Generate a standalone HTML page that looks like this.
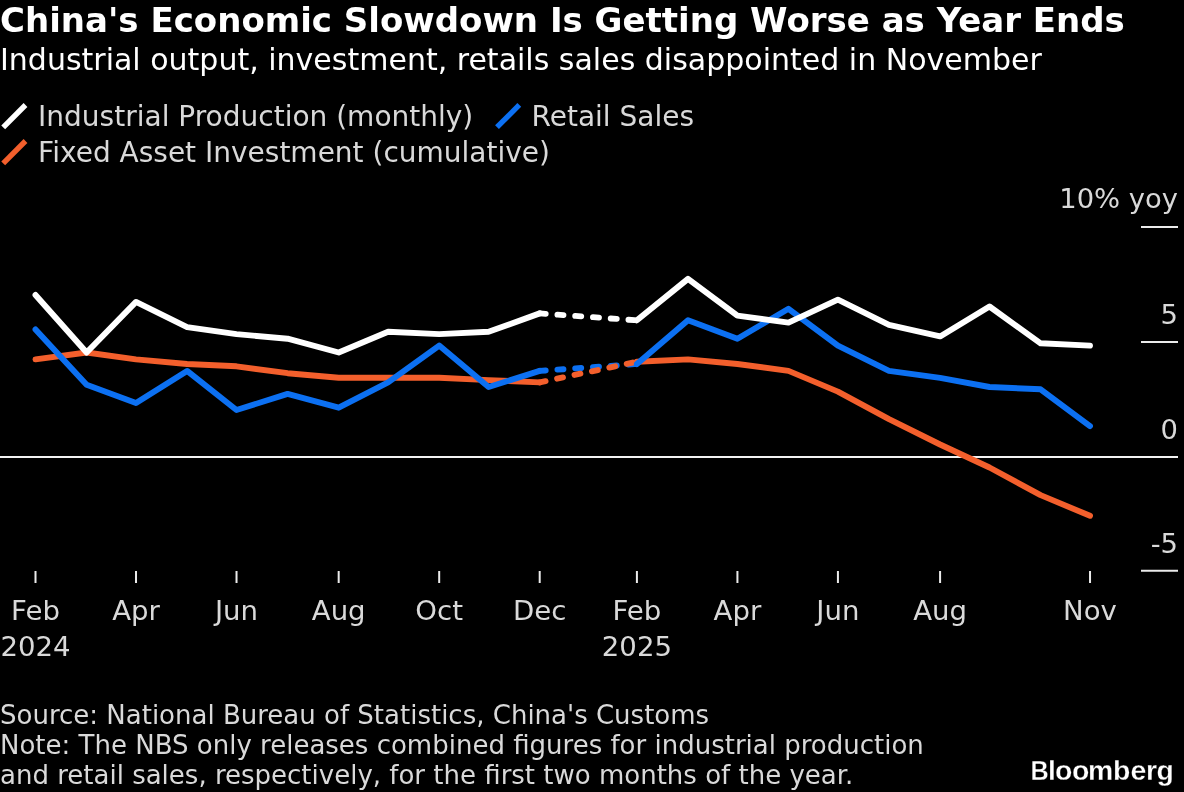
<!DOCTYPE html>
<html lang="en"><head><meta charset="utf-8"><title>China's Economic Slowdown Is Getting Worse as Year Ends</title>
<style>html,body{margin:0;padding:0;background:#000;}body{width:1184px;height:792px;overflow:hidden;}svg{display:block;}</style></head>
<body>
<svg width="1184" height="792" viewBox="0 0 1184 792">
<rect width="1184" height="792" fill="#000"/>
<g font-family="'DejaVu Sans', 'Liberation Sans', sans-serif">
<text x="0" y="32" font-size="34" font-weight="bold" fill="#fff">China's Economic Slowdown Is Getting Worse as Year Ends</text>
<text x="0" y="70" font-size="30" fill="#fff">Industrial output, investment, retails sales disappointed in November</text>
<line x1="3.2" y1="127.3" x2="25.5" y2="105" stroke="#ffffff" stroke-width="5.4"/>
<text x="38.1" y="125.9" font-size="28" fill="#d9d9d9">Industrial Production (monthly)</text>
<line x1="497.0" y1="127.2" x2="519.3" y2="104.9" stroke="#0c70f2" stroke-width="5.4"/>
<text x="531.5" y="125.9" font-size="28" fill="#d9d9d9">Retail Sales</text>
<line x1="3.2" y1="163.3" x2="25.5" y2="141" stroke="#f35f2c" stroke-width="5.4"/>
<text x="38.1" y="162" font-size="28" fill="#d9d9d9">Fixed Asset Investment (cumulative)</text>
<rect x="1141" y="226" width="37" height="2" fill="#ebebeb"/>
<text x="1178" y="207.8" font-size="27.4" fill="#d9d9d9" text-anchor="end">10% yoy</text>
<rect x="1141" y="341" width="37" height="2" fill="#ebebeb"/>
<text x="1178" y="323.8" font-size="27.4" fill="#d9d9d9" text-anchor="end">5</text>
<rect x="0" y="456" width="1178" height="2" fill="#f2f2f2"/>
<text x="1178" y="439.3" font-size="27.4" fill="#d9d9d9" text-anchor="end">0</text>
<rect x="1141" y="569.75" width="37" height="2" fill="#ebebeb"/>
<text x="1178" y="553.1" font-size="27.4" fill="#d9d9d9" text-anchor="end">-5</text>
<rect x="34.50" y="571" width="2" height="12" fill="#ebebeb"/>
<text transform="translate(35.5,619.5) scale(1.022,1)" font-size="27" fill="#d9d9d9" text-anchor="middle">Feb</text>
<text transform="translate(35.5,655.8) scale(1.022,1)" font-size="27" fill="#d9d9d9" text-anchor="middle">2024</text>
<rect x="135.01" y="571" width="2" height="12" fill="#ebebeb"/>
<text transform="translate(136.0,619.5) scale(1.022,1)" font-size="27" fill="#d9d9d9" text-anchor="middle">Apr</text>
<rect x="235.52" y="571" width="2" height="12" fill="#ebebeb"/>
<text transform="translate(236.5,619.5) scale(1.022,1)" font-size="27" fill="#d9d9d9" text-anchor="middle">Jun</text>
<rect x="337.68" y="571" width="2" height="12" fill="#ebebeb"/>
<text transform="translate(338.7,619.5) scale(1.022,1)" font-size="27" fill="#d9d9d9" text-anchor="middle">Aug</text>
<rect x="438.19" y="571" width="2" height="12" fill="#ebebeb"/>
<text transform="translate(439.2,619.5) scale(1.022,1)" font-size="27" fill="#d9d9d9" text-anchor="middle">Oct</text>
<rect x="538.70" y="571" width="2" height="12" fill="#ebebeb"/>
<text transform="translate(539.7,619.5) scale(1.022,1)" font-size="27" fill="#d9d9d9" text-anchor="middle">Dec</text>
<rect x="635.91" y="571" width="2" height="12" fill="#ebebeb"/>
<text transform="translate(636.9,619.5) scale(1.022,1)" font-size="27" fill="#d9d9d9" text-anchor="middle">Feb</text>
<text transform="translate(636.9,655.8) scale(1.022,1)" font-size="27" fill="#d9d9d9" text-anchor="middle">2025</text>
<rect x="736.42" y="571" width="2" height="12" fill="#ebebeb"/>
<text transform="translate(737.4,619.5) scale(1.022,1)" font-size="27" fill="#d9d9d9" text-anchor="middle">Apr</text>
<rect x="836.93" y="571" width="2" height="12" fill="#ebebeb"/>
<text transform="translate(837.9,619.5) scale(1.022,1)" font-size="27" fill="#d9d9d9" text-anchor="middle">Jun</text>
<rect x="939.09" y="571" width="2" height="12" fill="#ebebeb"/>
<text transform="translate(940.1,619.5) scale(1.022,1)" font-size="27" fill="#d9d9d9" text-anchor="middle">Aug</text>
<rect x="1089.03" y="571" width="2" height="12" fill="#ebebeb"/>
<text transform="translate(1090.0,619.5) scale(1.022,1)" font-size="27" fill="#d9d9d9" text-anchor="middle">Nov</text>
<line stroke="#0c70f2" stroke-width="5.9" stroke-linecap="round" stroke-dasharray="6 11.8" x1="539.7" y1="370.9" x2="636.9" y2="364.0"/>

<line stroke="#f35f2c" stroke-width="5.9" stroke-linecap="round" stroke-dasharray="6 11.8" x1="539.7" y1="382.4" x2="636.9" y2="361.7"/>

<line stroke="#ffffff" stroke-width="5.9" stroke-linecap="round" stroke-dasharray="6 11.8" x1="539.7" y1="313.4" x2="636.9" y2="320.3"/>

<polyline fill="none" stroke="#f35f2c" stroke-width="5.9" stroke-linecap="round" stroke-linejoin="round" points="35.5,359.4 86.6,352.5 136.0,359.4 187.1,364.0 236.5,366.3 287.6,373.2 338.7,377.8 388.1,377.8 439.2,377.8 488.6,380.1 539.7,382.4"/>
<polyline fill="none" stroke="#f35f2c" stroke-width="5.9" stroke-linecap="round" stroke-linejoin="round" points="636.9,361.7 688.0,359.4 737.4,364.0 788.5,370.9 837.9,391.6 889.0,419.2 940.1,444.5 989.5,467.5 1040.6,495.1 1090.0,515.8"/>

<polyline fill="none" stroke="#0c70f2" stroke-width="5.9" stroke-linecap="round" stroke-linejoin="round" points="35.5,329.5 86.6,384.7 136.0,403.1 187.1,370.9 236.5,410.0 287.6,393.9 338.7,407.7 388.1,382.4 439.2,345.6 488.6,387.0 539.7,370.9"/>
<polyline fill="none" stroke="#0c70f2" stroke-width="5.9" stroke-linecap="round" stroke-linejoin="round" points="636.9,364.0 688.0,320.3 737.4,338.7 788.5,308.8 837.9,345.6 889.0,370.9 940.1,377.8 989.5,387.0 1040.6,389.3 1090.0,426.1"/>

<polyline fill="none" stroke="#ffffff" stroke-width="5.9" stroke-linecap="round" stroke-linejoin="round" points="35.5,295.0 86.6,352.5 136.0,301.9 187.1,327.2 236.5,334.1 287.6,338.7 338.7,352.5 388.1,331.8 439.2,334.1 488.6,331.8 539.7,313.4"/>
<polyline fill="none" stroke="#ffffff" stroke-width="5.9" stroke-linecap="round" stroke-linejoin="round" points="636.9,320.3 688.0,278.9 737.4,315.7 788.5,322.6 837.9,299.6 889.0,324.9 940.1,336.4 989.5,306.5 1040.6,343.3 1090.0,345.6"/>

<text x="0" y="724.1" font-size="26" fill="#d9d9d9">Source: National Bureau of Statistics, China's Customs</text>
<text x="0" y="753.6" font-size="26" fill="#d9d9d9">Note: The NBS only releases combined figures for industrial production</text>
<text x="0" y="783.7" font-size="26" fill="#d9d9d9">and retail sales, respectively, for the first two months of the year.</text>
</g>
<text y="779.5" font-family="'Liberation Sans', sans-serif" font-weight="bold" font-size="28.4" fill="#fff" stroke="#000" stroke-width="0.3"><tspan x="1030.5" textLength="18.2" lengthAdjust="spacingAndGlyphs">B</tspan><tspan x="1047.9 1054.9 1071.9 1088.1 1113.0 1130.5 1145.9 1156.5">loomberg</tspan></text>
</svg>
</body></html>
